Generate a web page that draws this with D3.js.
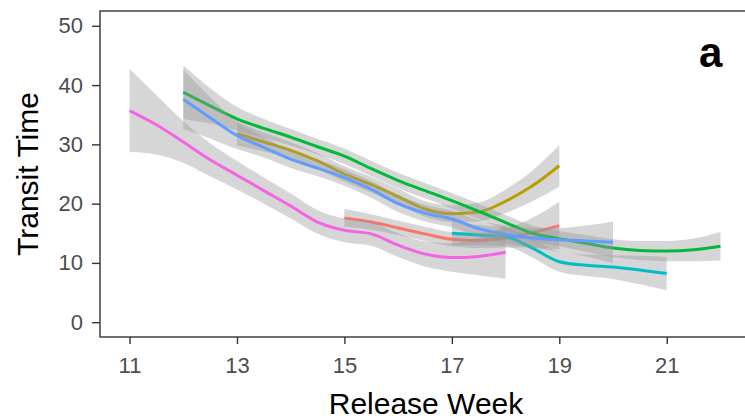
<!DOCTYPE html>
<html>
<head>
<meta charset="utf-8">
<script src="https://cdn.jsdelivr.net/npm/d3@7/dist/d3.min.js"></script>
<style>
  body { margin: 0; background: #fff; }
  svg text { font-family: "Liberation Sans", Arial, sans-serif; }
  .axis path { display: none; }
  .axis line { stroke: #333; stroke-width: 1.4; }
  .axis text { fill: #4d4d4d; font-size: 22px; }
</style>
</head>
<body>
<div id="chart"></div>
<script>
// smoothed transit time per release week, one list per group
// (fit value and half-width of the grey confidence band)
const redWeeks = [15, 15.5, 16, 16.5, 17, 17.5, 18, 18.5, 19];
const redFit = [17.6, 16.9, 15.9, 14.9, 14.0, 13.8, 14.2, 15.1, 16.3];
const redSe = [1.5, 1.3, 1.2, 1.2, 1.2, 1.3, 1.6, 2.5, 4.0];

const oliveWeeks = [13, 13.5, 14, 14.5, 15, 15.5, 16, 16.5, 17, 17.5, 18, 18.5, 19];
const oliveFit = [31.8, 30.4, 29.0, 27.2, 25.0, 23.2, 21.2, 19.1, 18.3, 18.6, 20.4, 23.0, 26.4];
const oliveSe = [2.0, 1.6, 1.4, 1.3, 1.3, 1.3, 1.3, 1.3, 1.4, 1.6, 2.0, 2.6, 3.5];

const greenWeeks = [12, 12.5, 13, 13.5, 14, 14.5, 15, 15.5, 16, 16.5, 17,
  17.5, 18, 18.5, 19, 19.5, 20, 20.5, 21, 21.5, 22];
const greenFit = [38.8, 36.5, 34.3, 32.7, 31.2, 29.6, 28.0, 25.9, 23.9, 22.2, 20.5,
  18.7, 16.8, 15.0, 14.1, 13.3, 12.5, 12.1, 12.0, 12.2, 12.8];
const greenSe = [4.5, 3.0, 2.0, 1.6, 1.4, 1.3, 1.3, 1.3, 1.3, 1.3, 1.3,
  1.3, 1.3, 1.3, 1.3, 1.4, 1.5, 1.6, 1.7, 1.9, 2.4];

const cyanWeeks = [17, 17.5, 18, 18.5, 19, 19.5, 20, 20.5, 21];
const cyanFit = [15.0, 14.7, 14.4, 12.5, 10.2, 9.6, 9.3, 8.8, 8.2];
const cyanSe = [2.0, 1.7, 1.6, 1.6, 1.7, 1.8, 2.0, 2.4, 2.8];

const blueWeeks = [12, 12.5, 13, 13.5, 14, 14.5, 15, 15.5, 16, 16.5, 17,
  17.5, 18, 18.5, 19, 19.5, 20];
const blueFit = [37.6, 34.5, 31.5, 29.5, 27.5, 26.0, 24.4, 22.4, 20.0, 18.4, 17.4,
  15.8, 14.8, 14.2, 13.9, 13.7, 13.5];
const blueSe = [5.0, 3.5, 2.3, 1.7, 1.5, 1.4, 1.4, 1.4, 1.4, 1.4, 1.4,
  1.4, 1.5, 1.7, 2.0, 2.6, 3.5];

const pinkWeeks = [11, 11.5, 12, 12.5, 13, 13.5, 14, 14.5, 15, 15.5, 16,
  16.5, 17, 17.5, 18];
const pinkFit = [35.7, 33.3, 30.4, 27.4, 24.8, 22.2, 19.6, 16.9, 15.5, 14.9, 13.0,
  11.5, 10.9, 11.1, 11.8];
const pinkSe = [7.0, 5.0, 3.5, 2.8, 2.4, 2.2, 2.1, 2.0, 2.0, 2.0, 2.0,
  2.1, 2.4, 3.2, 4.5];

const xTicks = [11, 13, 15, 17, 19, 21];
const yTicks = [0, 10, 20, 30, 40, 50];

// drawing order follows the group order (later bands cover earlier lines)
const groups = [
  {weeks: redWeeks, fit: redFit, se: redSe, color: '#F8766D'},
  {weeks: oliveWeeks, fit: oliveFit, se: oliveSe, color: '#B79F00'},
  {weeks: greenWeeks, fit: greenFit, se: greenSe, color: '#00BA38'},
  {weeks: cyanWeeks, fit: cyanFit, se: cyanSe, color: '#00BFC4'},
  {weeks: blueWeeks, fit: blueFit, se: blueSe, color: '#619CFF'},
  {weeks: pinkWeeks, fit: pinkFit, se: pinkSe, color: '#F564E3'},
];

const W = 745;
const H = 420;
const panel = {left: 100, top: 11, right: 750, bottom: 337};

let svg = d3.select('#chart')
  .append('svg')
  .attr('width', W)
  .attr('height', H);

let x = d3.scaleLinear()
  .domain([10.45, 22.55])
  .range([panel.left, panel.right]);

let y = d3.scaleLinear()
  .domain([-2.5, 52.5])
  .range([panel.bottom, panel.top]);

let band = d3.area()
  .curve(d3.curveMonotoneX)
  .x(d => x(d.w))
  .y0(d => y(d.v - d.s))
  .y1(d => y(d.v + d.s));

let line = d3.line()
  .curve(d3.curveMonotoneX)
  .x(d => x(d.w))
  .y(d => y(d.v));

let plot = svg.append('g');

groups.forEach(function(g) {
  let pts = g.weeks.map((w, i) => ({w: w, v: g.fit[i], s: g.se[i]}));

  plot.append('path')
    .attr('d', band(pts))
    .attr('fill', '#999999')
    .attr('fill-opacity', 0.4);

  plot.append('path')
    .attr('d', line(pts))
    .attr('fill', 'none')
    .attr('stroke', g.color)
    .attr('stroke-width', 3);
});

// panel frame
svg.append('rect')
  .attr('x', panel.left)
  .attr('y', panel.top)
  .attr('width', panel.right - panel.left)
  .attr('height', panel.bottom - panel.top)
  .attr('fill', 'none')
  .attr('stroke', '#333')
  .attr('stroke-width', 1.4);

svg.append('g')
  .attr('class', 'axis')
  .attr('transform', 'translate(0,' + panel.bottom + ')')
  .call(d3.axisBottom(x).tickValues(xTicks).tickSize(7).tickPadding(13));

svg.append('g')
  .attr('class', 'axis')
  .attr('transform', 'translate(' + panel.left + ',0)')
  .call(d3.axisLeft(y).tickValues(yTicks).tickSize(8).tickPadding(9));

svg.append('text')
  .attr('x', 426)
  .attr('y', 414)
  .attr('text-anchor', 'middle')
  .attr('font-size', 30)
  .attr('fill', '#000')
  .text('Release Week');

svg.append('text')
  .attr('transform', 'translate(38,' + 174 + ') rotate(-90)')
  .attr('text-anchor', 'middle')
  .attr('font-size', 30)
  .attr('fill', '#000')
  .text('Transit Time');

svg.append('text')
  .attr('x', 699)
  .attr('y', 67)
  .attr('font-size', 42)
  .attr('font-weight', 'bold')
  .attr('fill', '#000')
  .text('a');
</script>
</body>
</html>
